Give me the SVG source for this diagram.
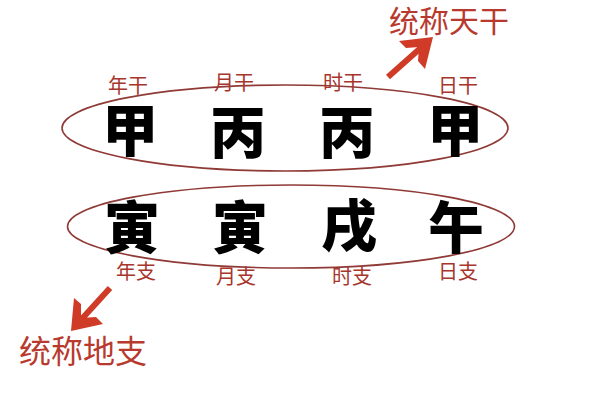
<svg xmlns="http://www.w3.org/2000/svg" width="600" height="400" viewBox="0 0 600 400">
<style>
  .big { font-family: "Liberation Sans", "Noto Sans CJK SC", sans-serif; font-weight: 900; font-size: 56px; fill: #000; text-anchor: middle; }
  .lbl { font-family: "Liberation Sans", "Noto Sans CJK SC", sans-serif; font-size: 20px; fill: #a8352c; text-anchor: middle; }
  .title { font-family: "Liberation Sans", "Noto Sans CJK SC", sans-serif; font-size: 30px; fill: #b83a2e; text-anchor: middle; }
  .ring { fill: none; stroke: #8f3a36; stroke-width: 1.6; }
  .arrow { stroke: #cf3b26; stroke-width: 6; fill: none; stroke-linecap: butt; }
  .head { fill: #cf3b26; }
</style>
<rect width="600" height="400" fill="#fff"/>

<g id="tiangan">
  <ellipse class="ring" cx="285" cy="128" rx="223" ry="43"/>
  <g id="nian-gan"><text class="lbl" x="128" y="93">年干</text><text class="big" x="130" y="151">甲</text></g>
  <g id="yue-gan"><text class="lbl" x="234" y="90">月干</text><text class="big" x="238" y="153">丙</text></g>
  <g id="shi-gan"><text class="lbl" x="343" y="90">时干</text><text class="big" x="347" y="153">丙</text></g>
  <g id="ri-gan"><text class="lbl" x="458" y="93">日干</text><text class="big" x="455" y="151">甲</text></g>
</g>

<g id="dizhi">
  <ellipse class="ring" cx="291" cy="226.5" rx="223.5" ry="41.5"/>
  <g id="nian-zhi"><text class="big" x="132" y="248">寅</text><text class="lbl" x="136" y="279">年支</text></g>
  <g id="yue-zhi"><text class="big" x="240" y="248">寅</text><text class="lbl" x="236" y="284">月支</text></g>
  <g id="shi-zhi"><text class="big" x="349" y="246">戌</text><text class="lbl" x="352" y="284">时支</text></g>
  <g id="ri-zhi"><text class="big" x="456" y="248">午</text><text class="lbl" x="458" y="279">日支</text></g>
</g>

<g id="label-tiangan"><text class="title" x="449" y="32">统称天干</text></g>
<g id="label-dizhi"><text class="title" x="83" y="363" style="font-size:32px">统称地支</text></g>

<g id="connectors">
  <line class="arrow" x1="388" y1="77" x2="424" y2="45"/>
  <polygon class="head" points="433,37 399,41 406,48 419,47 418,61 425,69"/>
  <line class="arrow" x1="110" y1="288" x2="79" y2="322"/>
  <polygon class="head" points="71,331 74,298 81,304 81,318 96,317 103,324"/>
</g>
</svg>
